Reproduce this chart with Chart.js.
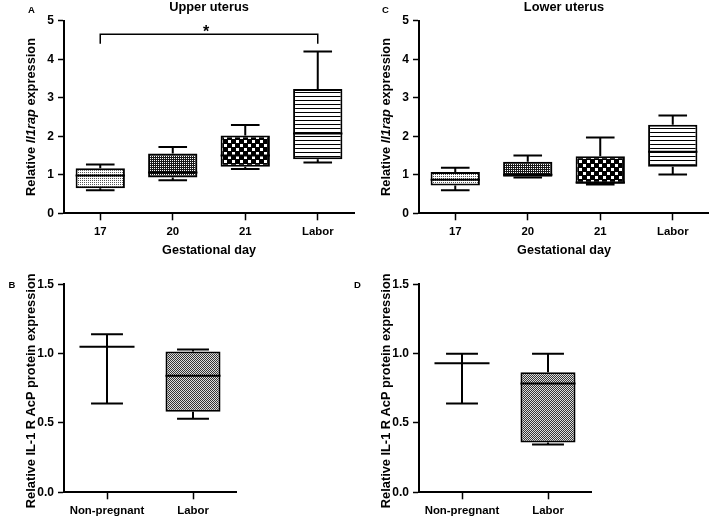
<!DOCTYPE html>
<html><head><meta charset="utf-8">
<script src="https://cdn.jsdelivr.net/npm/chart.js@4.4.1/dist/chart.umd.min.js"></script>
<style>
html,body{margin:0;padding:0;background:#fff;}
#wrap{position:relative;width:709px;height:518px;overflow:hidden;background:#fff;}
canvas{position:absolute;}
</style></head><body>
<div id="wrap">
<canvas id="cA" width="355" height="260" style="left:0;top:0"></canvas>
<canvas id="cC" width="354" height="260" style="left:355px;top:0"></canvas>
<canvas id="cB" width="355" height="258" style="left:0;top:260px"></canvas>
<canvas id="cD" width="364" height="258" style="left:345px;top:260px"></canvas>
</div>
<script>
// ---------- data ----------
const gestationalDays = ['17', '20', '21', 'Labor'];

const upperMin    = [0.60, 0.86, 1.15, 1.32];
const upperQ1     = [0.65, 0.93, 1.21, 1.40];
const upperMedian = [0.98, 1.06, 1.50, 2.07];
const upperQ3     = [1.17, 1.55, 2.02, 3.23];
const upperMax    = [1.27, 1.72, 2.29, 4.20];

const lowerMin    = [0.60, 0.93, 0.75, 1.01];
const lowerQ1     = [0.72, 0.95, 0.77, 1.21];
const lowerMedian = [0.87, 1.00, 0.80, 1.60];
const lowerQ3     = [1.07, 1.34, 1.48, 2.30];
const lowerMax    = [1.18, 1.50, 1.97, 2.54];

const proteinGroups = ['Non-pregnant', 'Labor'];

const upperProtMin    = [0.64, 0.53];
const upperProtQ1     = [1.05, 0.58];
const upperProtMedian = [1.05, 0.84];
const upperProtQ3     = [1.05, 1.015];
const upperProtMax    = [1.14, 1.03];

const lowerProtMin    = [0.64, 0.345];
const lowerProtQ1     = [0.93, 0.36];
const lowerProtMedian = [0.93, 0.785];
const lowerProtQ3     = [0.93, 0.865];
const lowerProtMax    = [1.00, 1.00];

const expressionTicks = ['0', '1', '2', '3', '4', '5'];
const proteinTicks = ['0.0', '0.5', '1.0', '1.5'];

const sigPair = ['17', 'Labor'];
const sigLevels = [4.65, 4.40];
const sigMark = '*';

// ---------- styling ----------
const FONT = "'Liberation Sans', Arial, Helvetica, sans-serif";
Chart.defaults.font.family = FONT;
Chart.defaults.color = '#000';

function tile(w, h, paint) {
  const c = document.createElement('canvas');
  c.width = w; c.height = h;
  const g = c.getContext('2d');
  paint(g);
  return g.createPattern(c, 'repeat');
}
const patLight = tile(2, 2, g => { g.fillStyle = '#fff'; g.fillRect(0,0,2,2); g.fillStyle = '#555'; g.fillRect(0,0,1,1); });
const patDense = tile(2, 2, g => { g.fillStyle = '#1a1a1a'; g.fillRect(0,0,2,2); g.fillStyle = '#fff'; g.fillRect(0,0,1,1); });
const patChecker = tile(8, 8, g => { g.fillStyle = '#000'; g.fillRect(0,0,8,8); g.fillStyle = '#fff'; g.fillRect(0,0,3,3); g.fillRect(4,4,3,3); });
const patStripes = tile(4, 4, g => { g.fillStyle = '#fff'; g.fillRect(0,0,4,4); g.fillStyle = '#000'; g.fillRect(0,0,4,1); });
const patGrey = tile(2, 2, g => { g.fillStyle = '#ddd'; g.fillRect(0,0,2,2); g.fillStyle = '#333'; g.fillRect(0,0,1,1); g.fillRect(1,1,1,1); });

function boxWhiskers(s) {
  return {
    id: 'boxWhiskers',
    afterDatasetsDraw(chart) {
      const ctx = chart.ctx, y = chart.scales.y;
      const meta = chart.getDatasetMeta(0);
      ctx.save();
      ctx.strokeStyle = '#000';
      ctx.lineWidth = 2;
      meta.data.forEach((bar, i) => {
        const x = bar.x, w = bar.width, cap = w * 0.58;
        const pMin = y.getPixelForValue(s.min[i]);
        const pQ1 = y.getPixelForValue(s.q1[i]);
        const pMed = y.getPixelForValue(s.median[i]);
        const pQ3 = y.getPixelForValue(s.q3[i]);
        const pMax = y.getPixelForValue(s.max[i]);
        ctx.beginPath();
        ctx.moveTo(x, pQ3); ctx.lineTo(x, pMax);
        ctx.moveTo(x - cap / 2, pMax); ctx.lineTo(x + cap / 2, pMax);
        ctx.moveTo(x, pQ1); ctx.lineTo(x, pMin);
        ctx.moveTo(x - cap / 2, pMin); ctx.lineTo(x + cap / 2, pMin);
        ctx.moveTo(x - w / 2, pMed); ctx.lineTo(x + w / 2, pMed);
        ctx.stroke();
      });
      ctx.restore();
    }
  };
}

function decor(cfg) {
  return {
    id: 'decor',
    afterDraw(chart) {
      const ctx = chart.ctx, a = chart.chartArea;
      ctx.save();
      ctx.fillStyle = '#000';
      ctx.textAlign = 'center';
      ctx.textBaseline = 'middle';
      ctx.font = 'bold 9.5px ' + FONT;
      ctx.fillText(cfg.letter, cfg.letterX, cfg.letterY);
      if (cfg.title) {
        ctx.font = 'bold 12.8px ' + FONT;
        ctx.fillText(cfg.title, (a.left + a.right) / 2, 7.5);
      }
      // y-axis title with mixed styles
      ctx.save();
      ctx.translate(a.left - 32.5, (a.top + a.bottom) / 2 + (cfg.yShift || 0));
      ctx.rotate(-Math.PI / 2);
      const fonts = cfg.yTitle.map(p => (p.italic ? 'italic ' : '') + 'bold 12.8px ' + FONT);
      const widths = cfg.yTitle.map((p, i) => { ctx.font = fonts[i]; return ctx.measureText(p.text).width; });
      const total = widths.reduce((t, w) => t + w, 0);
      let cx = -total / 2;
      ctx.textAlign = 'left';
      cfg.yTitle.forEach((p, i) => { ctx.font = fonts[i]; ctx.fillText(p.text, cx, 0); cx += widths[i]; });
      ctx.restore();
      // significance bracket
      if (cfg.sig) {
        const xs = chart.scales.x, ys = chart.scales.y;
        const x1 = xs.getPixelForValue(gestationalDays.indexOf(sigPair[0]));
        const x2 = xs.getPixelForValue(gestationalDays.indexOf(sigPair[1]));
        const yTop = ys.getPixelForValue(sigLevels[0]);
        const yDrop = ys.getPixelForValue(sigLevels[1]);
        ctx.strokeStyle = '#000';
        ctx.lineWidth = 1.5;
        ctx.beginPath();
        ctx.moveTo(x1, yDrop); ctx.lineTo(x1, yTop); ctx.lineTo(x2, yTop); ctx.lineTo(x2, yDrop);
        ctx.stroke();
        ctx.font = 'bold 16px ' + FONT;
        ctx.textAlign = 'center';
        ctx.textBaseline = 'alphabetic';
        ctx.fillText(sigMark, (x1 + x2) / 2 - 3, yTop + 2.5);
      }
      ctx.restore();
    }
  };
}

function makeChart(id, o) {
  return new Chart(document.getElementById(id), {
    type: 'bar',
    data: {
      labels: o.labels,
      datasets: [{
        data: o.q1.map((v, i) => [v, o.q3[i]]),
        backgroundColor: o.patterns,
        borderColor: '#000',
        borderWidth: 2,
        borderSkipped: false,
        barPercentage: o.barPct,
        categoryPercentage: 1
      }]
    },
    options: {
      responsive: false,
      animation: false,
      events: [],
      layout: { padding: o.padding },
      plugins: { legend: { display: false }, tooltip: { enabled: false }, title: { display: false } },
      scales: {
        x: {
          type: 'category',
          offset: true,
          grid: { offset: false, drawOnChartArea: false, drawTicks: true, tickLength: 7, tickWidth: 1.5, tickColor: '#000' },
          border: { display: true, color: '#000', width: 2 },
          ticks: { color: '#000', font: { size: 11.4, weight: 'bold' }, padding: 4.5, maxRotation: 0, autoSkip: false },
          title: { display: !!o.xTitle, text: o.xTitle || '', color: '#000', font: { size: 12.6, weight: 'bold' }, padding: { top: 0, bottom: 1.8 } },
          afterFit(s) { s.height = o.xHeight; }
        },
        y: {
          min: 0,
          max: o.yMax,
          ticks: { stepSize: o.yStep, color: '#000', font: { size: 12, weight: 'bold' }, padding: 4,
                   callback: (v, i) => o.yTicks[i] },
          grid: { drawOnChartArea: false, drawTicks: true, tickLength: 6, tickWidth: 1.5, tickColor: '#000' },
          border: { display: true, color: '#000', width: 2 },
          afterFit(s) { s.width = 64; }
        }
      }
    },
    plugins: [boxWhiskers(o), decor(o.decor)]
  });
}

const exprTitle = [{ text: 'Relative ' }, { text: 'Il1rap', italic: true }, { text: ' expression' }];
const protTitle = [{ text: 'Relative IL-1 R AcP protein expression' }];

makeChart('cA', {
  labels: gestationalDays, min: upperMin, q1: upperQ1, median: upperMedian, q3: upperQ3, max: upperMax,
  patterns: [patLight, patDense, patChecker, patStripes], barPct: 0.68,
  padding: { top: 20.7, right: 1, left: 0, bottom: 0 }, xHeight: 46.7,
  yMax: 5, yStep: 1, yTicks: expressionTicks, xTitle: 'Gestational day',
  decor: { letter: 'A', letterX: 31.5, letterY: 10, title: 'Upper uterus', yTitle: exprTitle, sig: true }
});
makeChart('cC', {
  labels: gestationalDays, min: lowerMin, q1: lowerQ1, median: lowerMedian, q3: lowerQ3, max: lowerMax,
  patterns: [patLight, patDense, patChecker, patStripes], barPct: 0.68,
  padding: { top: 20.7, right: 0, left: 0, bottom: 0 }, xHeight: 46.7,
  yMax: 5, yStep: 1, yTicks: expressionTicks, xTitle: 'Gestational day',
  decor: { letter: 'C', letterX: 30.5, letterY: 10, title: 'Lower uterus', yTitle: exprTitle, sig: false }
});
makeChart('cB', {
  labels: proteinGroups, min: upperProtMin, q1: upperProtQ1, median: upperProtMedian, q3: upperProtQ3, max: upperProtMax,
  patterns: [patGrey, patGrey], barPct: 0.64,
  padding: { top: 24.3, right: 119, left: 0, bottom: 0 }, xHeight: 25.7,
  yMax: 1.5, yStep: 0.5, yTicks: proteinTicks, xTitle: '',
  decor: { letter: 'B', letterX: 12, letterY: 25, title: '', yTitle: protTitle, yShift: 2.5, sig: false }
});
makeChart('cD', {
  labels: proteinGroups, min: lowerProtMin, q1: lowerProtQ1, median: lowerProtMedian, q3: lowerProtQ3, max: lowerProtMax,
  patterns: [patGrey, patGrey], barPct: 0.64,
  padding: { top: 24.3, right: 118, left: 10, bottom: 0 }, xHeight: 25.7,
  yMax: 1.5, yStep: 0.5, yTicks: proteinTicks, xTitle: '',
  decor: { letter: 'D', letterX: 12.5, letterY: 25, title: '', yTitle: protTitle, yShift: 2.5, sig: false }
});
</script>
</body></html>
